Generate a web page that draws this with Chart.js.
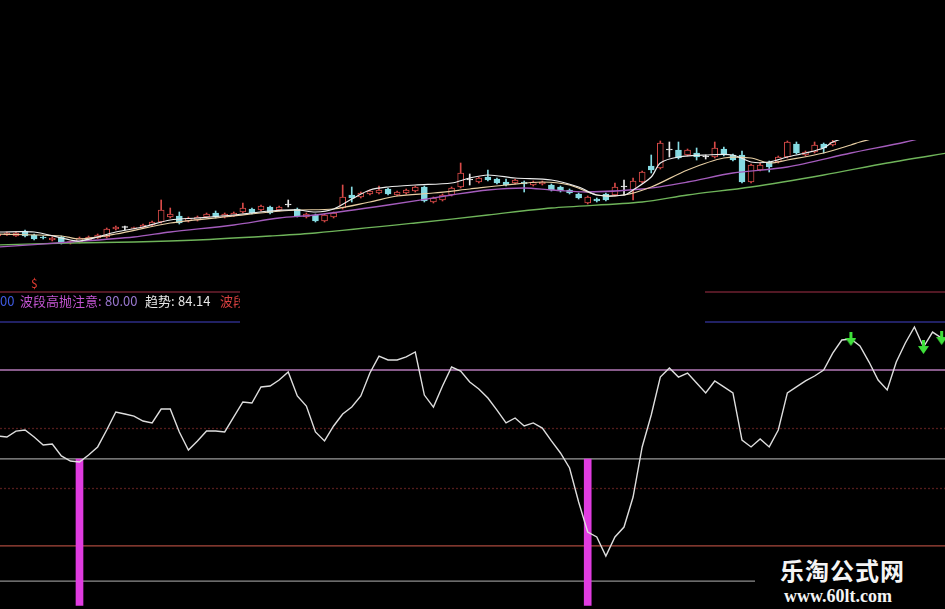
<!DOCTYPE html>
<html>
<head>
<meta charset="utf-8">
<script src="https://cdn.jsdelivr.net/npm/chart.js@4.4.0/dist/chart.umd.min.js"></script>
<style>
html, body { margin: 0; padding: 0; background: #000; }
#wrap { position: relative; width: 945px; height: 609px; overflow: hidden; background: #000; }
#priceBox { position: absolute; left: 0; top: 0; width: 945px; height: 270px; }
#oscBox { position: absolute; left: 0; top: 270px; width: 945px; height: 339px; }
.t { position: absolute; font-family: "Noto Sans CJK SC", sans-serif; font-size: 13px; line-height: 14px; white-space: nowrap; }
#mask { position: absolute; left: 240px; top: 283px; width: 465px; height: 50px; background: #000; }
#mark { position: absolute; left: 755px; top: 551px; width: 190px; height: 58px; background: #000; }
</style>
</head>
<body>
<div id="wrap">
  <div id="priceBox"><canvas id="price" width="945" height="270"></canvas></div>
  <div id="oscBox"><canvas id="osc" width="945" height="339"></canvas></div>
  <div class="t" style="left:31px;top:276px;font-size:12px;color:#e03a30;">$</div>
  <div class="t" style="left:0px;top:294px;color:#3f5ae0;">00</div>
  <div class="t" style="left:20px;top:294px;color:#c455d2;">波段高抛注意:</div>
  <div class="t" style="left:105px;top:294px;color:#9a78cf;">80.00</div>
  <div class="t" style="left:145px;top:294px;color:#e6e6e6;">趋势:</div>
  <div class="t" style="left:178px;top:294px;color:#e6e6e6;">84.14</div>
  <div class="t" style="left:220px;top:294px;color:#d84040;">波段</div>
  <div id="mask"></div>
  <div id="mark">
    <div class="t" style="left:25px;top:5px;font-size:24px;line-height:28px;font-weight:700;letter-spacing:1px;color:#f4f4f4;">乐淘公式网</div>
    <div class="t" style="left:29px;top:36px;font-family:'Liberation Serif',serif;font-size:18px;line-height:18px;font-weight:700;color:#f4f4f4;">www.60lt.com</div>
  </div>
</div>
<script>
// candles, index 0..104 (one bar every ~9px)
var open  = [12.9,13.0,12.9,13.4,13.0,12.8,12.5,12.8,12.2,12.3,12.5,12.7,12.8,13.6,13.75,13.65,13.75,14.0,14.3,14.8,
             14.9,14.4,14.5,14.8,15.2,14.8,14.9,15.3,15.6,15.5,15.8,15.5,16.0,15.6,14.8,15.0,14.4,14.8,15.7,17.0,
             16.8,17.1,17.2,17.6,17.0,17.2,17.4,17.8,16.3,16.5,17.0,17.8,18.5,18.3,18.8,18.6,18.3,18.2,18.3,18.0,
             18.1,18.0,17.8,17.5,17.1,16.2,16.6,17.1,17.0,17.8,17.5,18.3,19.9,19.7,21.5,21.5,21.0,21.2,20.8,20.8,
             21.6,21.0,21.0,18.3,19.5,20.3,20.3,20.8,22.1,21.0,21.3,22.1,22.0,22.7,23.2,23.6,23.3,23.9,24.3,24.0,
             24.6,24.9,24.5,25.0,25.4];
var close = [13.1,13.2,13.2,12.9,12.6,12.7,12.7,12.2,12.35,12.7,12.8,13.0,13.6,13.8,13.75,13.75,14.0,14.3,15.5,15.1,
             14.2,14.7,14.8,15.1,14.8,15.1,15.2,15.7,15.2,15.9,15.2,15.8,16.0,14.9,15.1,14.4,15.0,15.2,16.8,16.7,
             17.2,17.4,17.5,17.1,17.3,17.5,17.8,16.4,16.7,17.0,17.7,19.2,18.5,18.7,18.5,18.2,18.0,18.5,18.1,18.3,
             18.3,17.5,17.4,17.2,16.7,16.8,16.4,16.5,17.8,17.8,18.4,19.3,19.5,22.2,21.5,20.7,21.5,20.8,20.8,21.7,
             21.0,20.5,18.3,20.0,20.0,19.8,20.8,22.3,21.2,21.3,22.0,21.7,22.3,23.2,23.6,23.3,23.9,24.3,24.0,24.6,
             24.9,24.5,25.0,25.4,25.2];
var high  = [13.15,13.3,13.3,13.5,13.1,12.9,12.8,12.9,12.4,12.8,12.9,13.1,13.7,13.9,13.9,13.8,14.1,14.4,16.5,15.7,
             15.3,14.8,14.9,15.2,15.4,15.2,15.3,16.2,15.7,16.0,15.9,15.9,16.5,15.7,15.2,15.1,15.1,15.3,18.0,17.8,
             17.3,17.5,17.9,17.7,17.4,17.6,17.9,17.9,16.8,17.1,17.8,20.2,19.1,18.8,19.5,18.7,18.6,18.6,18.4,18.4,
             18.4,18.1,17.9,17.6,17.2,16.9,16.7,17.2,18.2,18.5,18.7,19.4,21.0,22.4,22.3,22.3,21.6,21.7,21.0,22.3,
             21.8,21.1,21.4,20.1,20.2,20.4,20.9,22.4,22.3,21.4,22.3,22.2,22.5,23.4,23.8,23.9,24.1,24.5,24.6,24.8,
             25.1,25.2,25.3,25.6,25.7];
var low   = [12.85,12.95,12.85,12.8,12.5,12.6,12.4,12.1,12.1,12.2,12.45,12.65,12.7,13.5,13.5,13.6,13.7,13.9,14.2,14.7,
             14.1,14.3,14.4,14.7,14.7,14.7,14.85,15.2,15.1,15.4,15.1,15.4,15.8,14.8,14.7,14.3,14.3,14.7,15.6,16.3,
             16.7,17.0,17.1,17.0,16.9,17.1,17.3,16.3,16.2,16.4,16.9,17.7,18.0,18.2,18.4,18.1,17.9,18.1,17.3,17.9,
             18.0,17.4,17.3,17.1,16.6,16.1,16.3,16.4,16.9,17.0,16.5,18.2,19.2,19.6,20.8,20.6,20.9,20.5,20.6,20.7,
             20.9,20.4,18.2,18.2,19.4,19.3,20.2,20.7,21.1,20.9,21.2,21.2,21.9,22.6,23.0,23.1,23.2,23.8,23.9,23.9,
             24.5,24.4,24.4,24.9,25.1];

// moving averages, read at sample bars
var ma5Idx  = [0,4,7,8,9,11,13,16,19,22,26,30,33,35,37,39,41,43,46,50,52,54,57,61,64,66,69,70,72,73,75,78,81,83,85,87,89,91,92,95];
var ma5Val  = [13.3,13.3,12.7,12.5,12.4,12.8,13.3,13.8,14.5,14.7,15.0,15.4,15.5,15.3,15.6,16.6,17.5,17.8,18.0,18.2,18.7,19.0,18.7,18.5,17.8,17.0,17.0,17.5,18.8,20.2,20.8,21.0,21.0,20.3,20.3,20.8,21.2,21.7,22.3,23.2];
var ma10Idx = [0,7,9,13,19,26,30,33,37,41,44,48,52,56,60,63,66,69,72,76,80,83,85,87,91,94,95,98];
var ma10Val = [13.1,12.9,12.6,13.1,14.2,14.9,15.3,15.5,15.6,16.3,16.9,17.2,17.6,18.0,18.3,18.0,17.0,17.0,17.8,19.5,20.7,20.7,20.2,20.5,21.2,22.0,22.3,23.0];
var ma20Idx = [0,8,15,19,26,31,35,43,50,54,58,61,65,71,76,81,87,94,100,105];
var ma20Val = [11.8,12.3,12.8,13.3,14.0,14.7,15.0,16.0,17.0,17.5,17.7,17.5,17.3,17.6,18.3,19.2,19.8,21.2,22.3,23.4];
var ma60Idx = [0,8,15,22,30,35,46,54,61,71,76,83,91,98,105];
var ma60Val = [12.0,12.2,12.3,12.5,12.9,13.2,14.2,15.0,15.7,16.3,17.0,17.8,19.0,20.2,21.25];

// trend oscillator
var trend = [36.0,35.3,39.3,40.0,35.3,30.0,30.7,22.7,19.3,18.7,23.3,28.7,40.0,52.0,50.7,49.3,46.0,44.7,54.0,54.0,
             38.7,26.7,32.7,39.3,39.3,38.7,48.7,58.7,58.0,68.7,69.3,73.3,78.7,62.7,56.0,38.7,32.7,42.7,50.7,55.3,
             62.7,78.0,89.3,86.7,86.7,88.7,92.0,63.3,55.3,69.3,82.0,79.3,72.0,67.3,61.3,53.3,44.7,48.0,42.7,44.7,
             41.3,32.7,24.7,14.7,-8.0,-28.0,-31.3,-44.0,-31.3,-24.7,-4.7,28.7,50.0,75.3,81.3,75.3,78.0,71.3,64.7,72.7,
             68.7,64.7,33.3,28.7,34.0,28.7,40.0,64.7,68.7,72.7,76.0,80.0,91.3,100.0,100.7,96.0,85.3,73.3,66.7,85.3,
             98.0,108.7,95.3,105.3,101.3,100.0];
var levels   = [132, 112, 80, 41, 20.7, 1, -37.3, -60.7];
var buyIdx   = [9, 65];
var buyLow   = -77;
var buyHigh  = 20.7;
var sellIdx  = [94, 102, 104];

var xMin = 0.24, xMax = 104.37;
var upColor = '#d84a48', downColor = '#86dbe2', flatColor = '#e8e8e8';
var levelColors = ['#6e2030', '#2c2c86', '#b47ab8', 'rgba(120,40,40,0.7)', '#9a9a9a', 'rgba(120,40,40,0.7)', '#a8483c', '#8e8e8e'];
var levelDash = [[], [], [], [2, 2], [], [2, 2], [], []];

function pts(idx, val) { return idx.map(function (d, k) { return { x: d, y: val[k] }; }); }
function tone(i) { return close[i] > open[i] ? upColor : (close[i] < open[i] ? downColor : flatColor); }

var baseOpts = {
  responsive: false, animation: false, devicePixelRatio: 1,
  plugins: { legend: { display: false }, tooltip: { enabled: false } }
};

new Chart(document.getElementById('price').getContext('2d'), {
  type: 'bar',
  data: {
    datasets: [
      { type: 'line', data: pts(ma5Idx, ma5Val), borderColor: '#ececec', borderWidth: 1.2, pointRadius: 0, tension: 0.3, order: 0 },
      { type: 'line', data: pts(ma10Idx, ma10Val), borderColor: '#e8cfa4', borderWidth: 1.2, pointRadius: 0, tension: 0.3, order: 0 },
      { type: 'line', data: pts(ma20Idx, ma20Val), borderColor: '#a45cbc', borderWidth: 1.3, pointRadius: 0, tension: 0.3, order: 0 },
      { type: 'line', data: pts(ma60Idx, ma60Val), borderColor: '#6fb45a', borderWidth: 1.3, pointRadius: 0, tension: 0.3, order: 0 },
      {
        data: open.map(function (o, i) { return { x: i, y: [o, close[i]] }; }),
        backgroundColor: function (c) { var i = c.dataIndex; return close[i] > open[i] ? '#000' : tone(i); },
        borderColor: function (c) { return tone(c.dataIndex); },
        borderWidth: 1, borderSkipped: false, barThickness: 6, minBarLength: 1, grouped: false, order: 1
      },
      {
        data: low.map(function (l, i) { return { x: i, y: [l, high[i]] }; }),
        backgroundColor: function (c) { return tone(c.dataIndex); },
        barThickness: 1, grouped: false, order: 2
      }
    ]
  },
  options: Object.assign({}, baseOpts, {
    layout: { autoPadding: false, padding: { top: 140, bottom: 5, left: 0, right: 0 } },
    scales: {
      x: { type: 'linear', min: xMin, max: xMax, offset: false, display: false },
      y: { min: 10, max: 22.5, display: false }
    }
  })
});

// green down arrow for the sell marks
var arrow = document.createElement('canvas');
arrow.width = 11; arrow.height = 14;
var ac = arrow.getContext('2d');
ac.fillStyle = '#3ee03a';
ac.fillRect(4, 0, 3, 7);
ac.beginPath(); ac.moveTo(0, 6); ac.lineTo(11, 6); ac.lineTo(5.5, 14); ac.closePath(); ac.fill();

var levelSets = levels.map(function (lv, k) {
  return { type: 'line', data: [{ x: xMin, y: lv }, { x: xMax, y: lv }], borderColor: levelColors[k], borderWidth: 1.3,
           borderDash: levelDash[k], pointRadius: 0, order: 5 };
});

new Chart(document.getElementById('osc').getContext('2d'), {
  type: 'bar',
  data: {
    datasets: levelSets.concat([
      {
        data: buyIdx.map(function (d) { return { x: d, y: [buyLow, buyHigh] }; }),
        backgroundColor: '#e03ce0', barThickness: 7, grouped: false, order: 3
      },
      { type: 'line', data: trend.map(function (v, i) { return { x: i, y: v }; }), borderColor: '#dedede', borderWidth: 1.4, pointRadius: 0, order: 1 },
      { type: 'scatter', data: sellIdx.map(function (d) { return { x: d, y: trend[d] }; }), pointStyle: arrow, order: 0 }
    ])
  },
  options: Object.assign({}, baseOpts, {
    layout: { autoPadding: false, padding: 0 },
    scales: {
      x: { type: 'linear', min: xMin, max: xMax, offset: false, display: false },
      y: { min: -79.33, max: 146.67, display: false }
    }
  })
});
</script>
</body>
</html>
